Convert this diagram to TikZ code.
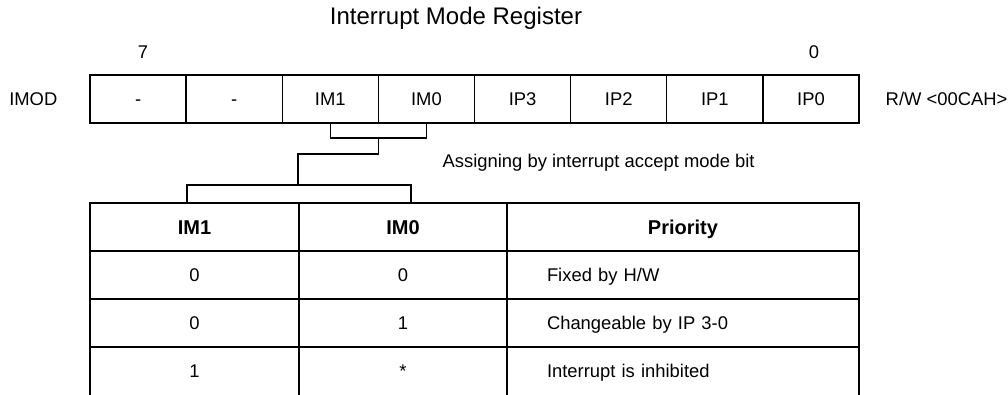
\documentclass[tikz,border=0pt]{standalone}
\usepackage{fontspec}
\setmainfont{Liberation Sans}
\usetikzlibrary{positioning}

\begin{document}
\begin{tikzpicture}[x=0.75pt,y=-0.75pt,node distance=0pt,line width=1pt,
  every node/.style={font=\fontsize{13.8}{16}\selectfont},
  bitcell/.style={draw,minimum width=72.1pt,minimum height=36pt,inner sep=0pt,outer sep=0pt,text height=9.9pt,text depth=0pt},
  tabcell/.style={draw,minimum height=36pt,inner sep=0pt,outer sep=0pt,text height=9.9pt,text depth=0pt},
  headcell/.style={tabcell,font=\fontsize{15}{17}\selectfont\bfseries,text height=10.8pt},
  lastrow/.style={minimum height=38pt,text depth=2pt},
  txt/.style={inner sep=0pt}]
\useasboundingbox (0,0) rectangle (1008,394);
% register
\node[txt,font=\fontsize{18}{20}\selectfont] (title) at (456,18) {Interrupt Mode Register};
\node[bitcell,anchor=north west] (b7) at (90,75) {-};
\node[bitcell,right=of b7] (b6) {-};
\node[bitcell,right=of b6] (rim1) {IM1};
\node[bitcell,right=of rim1] (rim0) {IM0};
\node[bitcell,right=of rim0] (rip3) {IP3};
\node[bitcell,right=of rip3] (rip2) {IP2};
\node[bitcell,right=of rip2] (rip1) {IP1};
\node[bitcell,right=of rip1] (rip0) {IP0};
\node[txt,left=24pt of b7] (imod) {IMOD};
\node[txt,right=19.5pt of rip0] (rw) {R/W <00CAH>};
\node[txt] (msb) at (143,52) {7};
\node[txt] (lsb) at (814,52) {0};
% table
\node[headcell,minimum width=156.75pt,anchor=north west] (tim1) at (90,203) {IM1};
\node[headcell,minimum width=156pt,right=of tim1] (tim0) {IM0};
\node[headcell,minimum width=264pt,right=of tim0] (tpri) {Priority};
\node[tabcell,minimum width=156.75pt,below=of tim1] (a1) {0};
\node[tabcell,minimum width=156pt,below=of tim0] (a0) {0};
\node[tabcell,text width=204pt,inner xsep=30pt,align=left,below=of tpri] (ap) {Fixed by H/W};
\node[tabcell,minimum width=156.75pt,below=of a1] (c1) {0};
\node[tabcell,minimum width=156pt,below=of a0] (c0) {1};
\node[tabcell,text width=204pt,inner xsep=30pt,align=left,below=of ap] (cp) {Changeable by IP 3-0};
\node[tabcell,lastrow,minimum width=156.75pt,below=of c1] (d1) {1};
\node[tabcell,lastrow,minimum width=156pt,below=of c0] (d0) {*};
\node[tabcell,lastrow,text width=204pt,inner xsep=30pt,align=left,below=of cp] (dp) {Interrupt is inhibited};
% brackets
\coordinate (fork) at (298,185);
\draw (rim1.south) -- ++(0,15) -| (rim0.south);
\draw (rim1.south east) ++(0,15) -- ++(0,16) -| (fork);
\draw ([xshift=-84pt]tim1.north east) |- (fork) -| ([xshift=84pt]tim1.north east);
\node[txt,anchor=west] (note) at (442,163) {Assigning by interrupt accept mode bit};
\end{tikzpicture}
\end{document}
